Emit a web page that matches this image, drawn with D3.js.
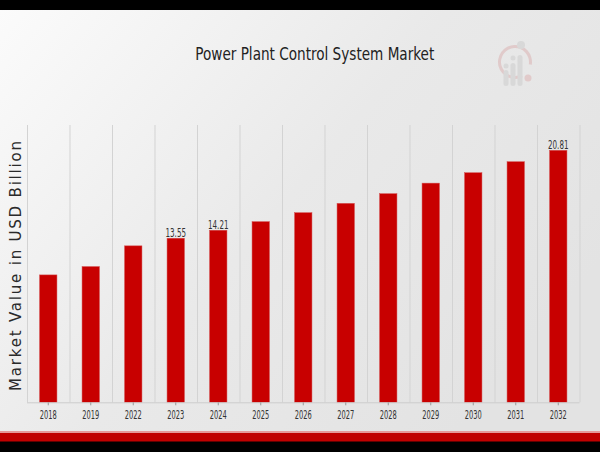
<!DOCTYPE html>
<html><head><meta charset="utf-8">
<script src="https://cdn.jsdelivr.net/npm/d3@7"></script>
<style>html,body{margin:0;padding:0;background:#000;}svg{display:block;}</style>
</head><body>
<script>
const years = ["2018","2019","2022","2023","2024","2025","2026","2027","2028","2029","2030","2031","2032"];
const values = [10.52,11.21,12.92,13.55,14.21,14.92,15.66,16.43,17.23,18.10,18.96,19.87,20.81];
const labelledYears = ["2023","2024","2032"];
const titleText = "Power Plant Control System Market";
const yAxisTitle = "Market Value in USD Billion";

(function(){
const W = 600, H = 452;
const svg = d3.select("body").append("svg").attr("width", W).attr("height", H);
const defs = svg.append("defs");
const g1 = defs.append("linearGradient").attr("id","bg").attr("x1","0").attr("y1","0").attr("x2","1").attr("y2","0.6");
g1.append("stop").attr("offset","0").attr("stop-color","#fbfbfb");
g1.append("stop").attr("offset","0.55").attr("stop-color","#e9e9e9");
g1.append("stop").attr("offset","1").attr("stop-color","#e3e3e3");

svg.append("rect").attr("x",0).attr("y",0).attr("width",W).attr("height",H).attr("fill","#000");
svg.append("rect").attr("x",0).attr("y",10).attr("width",W).attr("height",422).attr("fill","url(#bg)");
svg.append("rect").attr("x",0).attr("y",431).attr("width",W).attr("height",2).attr("fill","#e59a9a");
svg.append("rect").attr("x",0).attr("y",433).attr("width",W).attr("height",8.5).attr("fill","#c00000");

// watermark logo
const logo = svg.append("g").attr("opacity",0.45);
logo.append("path")
  .attr("d", d3.arc()({innerRadius:14,outerRadius:17,startAngle:Math.PI*0.85,endAngle:Math.PI*2.55}))
  .attr("transform","translate(515,62)").attr("fill","#d9a9a9");
logo.append("circle").attr("cx",528).attr("cy",78).attr("r",3.5).attr("fill","#dba9a9");
[[506,70,16],[513,63,23],[520,55,31]].forEach(([px,py,h])=>{
  logo.append("rect").attr("x",px-2.5).attr("y",py).attr("width",5).attr("height",h).attr("rx",2.5).attr("fill","#c8c8c8");
});
logo.append("circle").attr("cx",506).attr("cy",66).attr("r",2.5).attr("fill","#c8c8c8");
logo.append("circle").attr("cx",513).attr("cy",58).attr("r",2.5).attr("fill","#c8c8c8");
logo.append("circle").attr("cx",521).attr("cy",45).attr("r",4).attr("fill","#c8c8c8");

const pLeft = 27, pRight = 579.5, pTop = 125, pBottom = 402.3;
const x = d3.scaleBand().domain(years).range([pLeft, pRight]).paddingInner(0).paddingOuter(0);
const y = d3.scaleLinear().domain([0, 22.9]).range([pBottom, pTop]);

// vertical grid lines at category boundaries
const bounds = years.map(d => x(d)).concat([pRight]);
svg.append("g").selectAll("line").data(bounds).join("line")
  .attr("x1", d=>d+0.5).attr("x2", d=>d+0.5).attr("y1", pTop).attr("y2", pBottom)
  .attr("stroke","#d3d3d3").attr("stroke-width",1);

const barW = 17.4;
svg.append("g").selectAll("rect").data(years).join("rect")
  .attr("x", (d)=> x(d) + x.bandwidth()/2 - barW/2)
  .attr("y", (d,i)=> y(values[i]))
  .attr("width", barW)
  .attr("height", (d,i)=> pBottom - y(values[i]))
  .attr("fill","#c80000")
  .attr("stroke","#d45050").attr("stroke-width",0.5);

// x axis
const xAxis = d3.axisBottom(x).tickSize(3).tickPadding(0);
const ax = svg.append("g").attr("transform",`translate(0,${pBottom})`).call(xAxis);
ax.select(".domain").attr("stroke","#cccccc").attr("d",`M${pLeft},0.5H${pRight}`);
ax.selectAll(".tick line").attr("stroke","#999");
ax.selectAll(".tick text")
  .attr("fill","#333").attr("font-family","'DejaVu Sans Condensed','DejaVu Sans',sans-serif")
  .style("font-stretch","condensed")
  .attr("font-size",12.5).attr("y",17).attr("dy",null)
  .attr("textLength",17).attr("lengthAdjust","spacingAndGlyphs");

// value labels
svg.append("g").selectAll("text").data(years.filter(d=>labelledYears.includes(d))).join("text")
  .attr("x", d=> x(d)+x.bandwidth()/2)
  .attr("y", d=> y(values[years.indexOf(d)]) - 1.5)
  .attr("text-anchor","middle")
  .attr("font-family","'DejaVu Sans Condensed','DejaVu Sans',sans-serif")
  .style("font-stretch","condensed")
  .attr("font-size",12.5).attr("fill","#333")
  .attr("textLength",20.5).attr("lengthAdjust","spacingAndGlyphs")
  .text(d=> values[years.indexOf(d)].toFixed(2));

// title
svg.append("text").attr("x",314.8).attr("y",59.5).attr("text-anchor","middle")
  .attr("font-family","'DejaVu Sans Condensed','DejaVu Sans',sans-serif")
  .style("font-stretch","condensed")
  .attr("font-size",17).attr("fill","#222")
  .attr("textLength",239).attr("lengthAdjust","spacingAndGlyphs")
  .text(titleText);

// y axis title
svg.append("text").attr("transform","translate(20.5,266) rotate(-90)")
  .attr("text-anchor","middle")
  .attr("font-family","'DejaVu Sans',sans-serif")
  .attr("font-size",15).attr("fill","#2a2a2a")
  .attr("textLength",250).attr("lengthAdjust","spacing")
  .text(yAxisTitle);
})();
</script>
</body></html>
